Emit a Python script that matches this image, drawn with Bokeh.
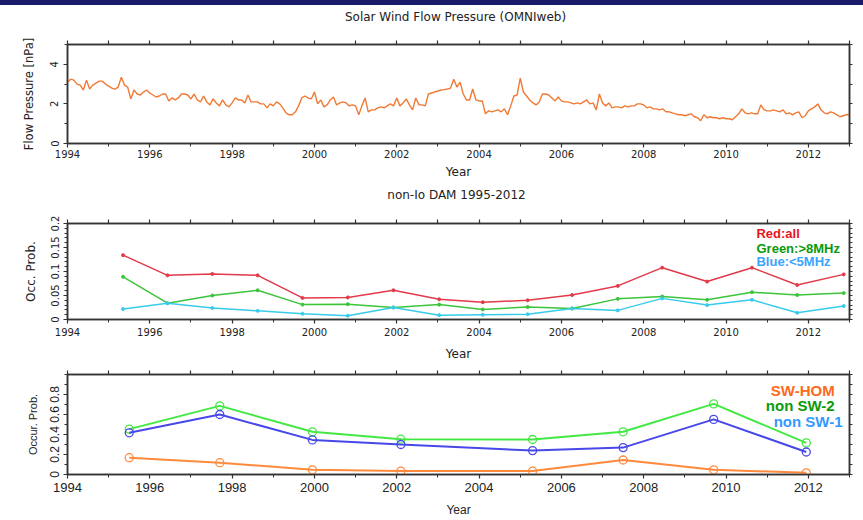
import numpy as np
from bokeh.plotting import figure
from bokeh.layouts import column
from bokeh.models import Label, LinearAxis, FixedTicker, Range1d, Div
from bokeh.embed import file_html
from bokeh.resources import INLINE

# ---- Solar wind flow pressure, 13 samples per year, 1994.0 .. 2013.0 ----
pressure_npa = [
    3.1, 3.25, 3.2, 3.0, 2.95, 2.7, 3.2, 2.75, 2.95, 3.05, 3.15, 3.15, 3.0,      # 1994
    2.9, 2.8, 2.75, 2.85, 3.35, 2.95, 2.85, 2.25, 2.7, 2.5, 2.45, 2.6, 2.7,      # 1995
    2.55, 2.45, 2.35, 2.4, 2.5, 2.5, 2.15, 2.3, 2.2, 2.3, 2.5, 2.5, 2.45,        # 1996
    2.25, 2.5, 2.2, 2.1, 2.4, 2.1, 1.95, 2.25, 2.05, 1.9, 2.2, 1.95, 1.85,       # 1997
    2.05, 2.3, 2.2, 2.2, 2.05, 2.45, 2.1, 2.1, 2.1, 2.0, 2.0, 1.8, 2.0,          # 1998
    1.9, 2.1, 2.0, 1.8, 1.55, 1.45, 1.45, 1.6, 1.9, 2.3, 2.4, 2.3, 2.25,         # 1999
    2.6, 2.0, 2.2, 1.85, 1.95, 2.2, 2.35, 1.95, 2.05, 2.1, 2.05, 1.9, 1.95,      # 2000
    1.9, 1.45, 1.9, 2.3, 1.6, 1.7, 1.7, 1.8, 1.85, 1.8, 1.9, 2.0, 1.9,           # 2001
    2.3, 1.9, 2.05, 2.25, 1.95, 1.7, 2.3, 1.95, 1.95, 1.9, 2.5, 2.55, 2.6,       # 2002
    2.65, 2.7, 2.72, 2.75, 2.8, 3.25, 2.85, 3.1, 2.5, 2.2, 2.2, 2.75, 2.2,       # 2003
    2.15, 2.15, 1.5, 1.65, 1.6, 1.65, 1.7, 1.6, 1.75, 1.45, 1.9, 2.4, 2.45,      # 2004
    3.3, 2.6, 2.4, 2.2, 2.05, 1.95, 2.1, 2.5, 2.5, 2.45, 2.3, 2.15, 2.35,        # 2005
    2.15, 2.1, 2.1, 2.05, 2.0, 2.05, 2.0, 2.1, 2.2, 2.0, 2.05, 1.7, 2.5,         # 2006
    2.05, 1.9, 2.05, 1.8, 1.85, 1.85, 1.8, 1.9, 1.85, 1.9, 1.9, 2.0, 2.0,        # 2007
    1.95, 1.8, 1.85, 1.75, 1.75, 1.7, 1.75, 1.6, 1.6, 1.55, 1.5, 1.45, 1.45,     # 2008
    1.4, 1.45, 1.5, 1.35, 1.3, 1.15, 1.45, 1.3, 1.35, 1.3, 1.3, 1.25, 1.3,       # 2009
    1.25, 1.25, 1.2, 1.35, 1.5, 1.75, 1.55, 1.5, 1.55, 1.5, 1.5, 1.95, 1.7,      # 2010
    1.65, 1.65, 1.7, 1.65, 1.6, 1.7, 1.5, 1.55, 1.45, 1.55, 1.6, 1.3, 1.4,       # 2011
    1.65, 1.75, 1.85, 2.0, 1.7, 1.55, 1.5, 1.6, 1.55, 1.45, 1.35, 1.4, 1.45,     # 2012
    1.45,                                                                         # 2013.0
]
pressure_year = np.linspace(1994.0, 2013.0, len(pressure_npa))

# ---- non-Io DAM occurrence probability ----
dam_year = [1995.35, 1996.43, 1997.52, 1998.62, 1999.71, 2000.81, 2001.92, 2003.03, 2004.09,
            2005.18, 2006.26, 2007.37, 2008.45, 2009.54, 2010.63, 2011.73, 2012.86]
dam_all = [0.134, 0.092, 0.095, 0.092, 0.045, 0.046, 0.061, 0.042, 0.036,
           0.040, 0.051, 0.070, 0.108, 0.079, 0.108, 0.072, 0.094]
dam_high = [0.089, 0.034, 0.050, 0.061, 0.031, 0.032, 0.025, 0.031, 0.021,
            0.026, 0.023, 0.043, 0.048, 0.041, 0.057, 0.051, 0.055]
dam_low = [0.022, 0.034, 0.024, 0.018, 0.012, 0.008, 0.025, 0.009, 0.010,
           0.011, 0.023, 0.019, 0.044, 0.030, 0.041, 0.014, 0.028]

# ---- solar wind related occurrence probability ----
sw_year = [1995.5, 1997.7, 1999.95, 2002.1, 2005.3, 2007.5, 2009.7, 2011.95]
sw_hom = [0.168, 0.118, 0.047, 0.034, 0.034, 0.145, 0.047, 0.017]
non_sw2 = [0.454, 0.686, 0.427, 0.353, 0.350, 0.427, 0.706, 0.316]
non_sw1 = [0.417, 0.600, 0.346, 0.300, 0.239, 0.269, 0.551, 0.225]

year_major = list(range(1994, 2013, 2))
year_minor = list(range(1995, 2014, 2))

AXIS_COLOR = "#333333"
IDL_FONT = "DejaVu Sans"
ARIAL = "Liberation Sans"
NAVY = "#1b1b6b"


def panel(height, left, top, right, bottom, yr, yticks, yminor, ylabels, ylabel,
          tick_font, xtick_size, ytick_size, ylab_size, ylab_standoff, xlab_standoff,
          year_standoff):
    p = figure(width=863, height=height,
               x_range=Range1d(1994, 2013), y_range=Range1d(*yr),
               output_backend="svg", toolbar_location=None,
               min_border_left=left, min_border_top=top, min_border_right=right,
               min_border_bottom=bottom)
    p.title = None
    p.xgrid.visible = False
    p.ygrid.visible = False
    p.outline_line_color = AXIS_COLOR
    p.outline_line_width = 1.5
    p.background_fill_color = "white"
    p.border_fill_color = "white"

    p.xaxis.ticker = FixedTicker(ticks=year_major, minor_ticks=year_minor)
    p.yaxis.ticker = FixedTicker(ticks=yticks, minor_ticks=yminor)
    p.yaxis.major_label_overrides = ylabels
    p.yaxis.major_label_orientation = "vertical"
    p.yaxis.axis_label = ylabel
    p.yaxis.axis_label_text_font = tick_font
    p.yaxis.axis_label_text_font_size = ylab_size
    p.yaxis.axis_label_text_font_style = "normal"
    p.yaxis.axis_label_text_color = "#222222"
    p.yaxis.axis_label_standoff = ylab_standoff
    p.xaxis.major_label_standoff = xlab_standoff
    p.xaxis.axis_label = "Year"
    p.xaxis.axis_label_text_font = tick_font
    p.xaxis.axis_label_text_font_size = "12px"
    p.xaxis.axis_label_text_font_style = "normal"
    p.xaxis.axis_label_text_color = "#222222"
    p.xaxis.axis_label_standoff = year_standoff

    # mirrored axes on top and right: tick marks only, no labels
    top_axis = LinearAxis(ticker=FixedTicker(ticks=[], minor_ticks=year_major + year_minor),
                          major_label_standoff=0, axis_label_standoff=0)
    right_axis = LinearAxis(ticker=FixedTicker(ticks=[], minor_ticks=sorted(set(yticks) | set(yminor))),
                            major_label_standoff=0, axis_label_standoff=0)
    p.add_layout(top_axis, "above")
    p.add_layout(right_axis, "right")

    for ax in p.axis:
        ax.axis_line_color = AXIS_COLOR
        ax.axis_line_width = 1.5
        ax.major_tick_line_color = AXIS_COLOR
        ax.minor_tick_line_color = AXIS_COLOR
        ax.major_tick_line_width = 1.2
        ax.major_tick_in = 0
        ax.major_tick_out = 4
        ax.minor_tick_in = 0
        ax.minor_tick_out = 3
        ax.major_label_text_font = tick_font
        ax.major_label_text_color = "#222222"
    top_axis.minor_tick_out = 4
    top_axis.minor_tick_line_width = 1.2
    p.xaxis.major_label_text_font_size = xtick_size
    p.yaxis.major_label_text_font_size = ytick_size
    return p


def heading(text, height, left, right, band=0):
    # centred text strip above a panel, centred over the plotting frame;
    # the first one also carries the navy band along the top of the page
    styles = {"font-family": IDL_FONT, "font-size": "12px", "color": "#222222",
              "line-height": f"{height - band}px", "text-align": "center",
              "padding-left": f"{left}px", "padding-right": f"{right}px",
              "box-sizing": "border-box", "white-space": "nowrap",
              "background-color": "white"}
    if band:
        styles["border-top"] = f"{band}px solid {NAVY}"
    return Div(text=text, width=863, height=height, margin=0, styles=styles)


def add_text(p, x, y, text, size, color, align):
    p.add_layout(Label(x=x, y=y, text=text, text_font=ARIAL, text_font_size=size,
                       text_color=color, text_font_style="bold", text_align=align,
                       text_baseline="middle"))


title1 = heading("Solar Wind Flow Pressure (OMNIweb)", 29, 62, 14, band=5)

# ---- panel 1: flow pressure ----
p1 = panel(154, 62, 15, 14, 40, (0, 5), [0, 2, 4], [1, 3, 5],
           {0: "0", 2: "2", 4: "4"}, "Flow Pressure [nPa]", IDL_FONT,
           "10px", "10px", "11.5px", 12, 2, 4)
p1.line(pressure_year, pressure_npa, line_color="#f07a35", line_width=1.4)

title2 = heading("non-Io DAM 1995-2012", 25, 63, 13)

# ---- panel 2: non-Io DAM ----
p2 = panel(155, 63, 15, 13, 42, (0, 0.2), [0, 0.05, 0.1, 0.15, 0.2],
           [round(0.01 * i, 2) for i in range(21)],
           {0: "0", 0.05: "0.05", 0.1: "0.1", 0.15: "0.15", 0.2: "0.2"},
           "Occ. Prob.", IDL_FONT, "10px", "10px", "12px", 10, 4, 8)
p2.line(dam_year, dam_all, line_color="#e23a48", line_width=1.5)
p2.scatter(dam_year, dam_all, size=3, color="#e23a48")
p2.line(dam_year, dam_high, line_color="#3cc43c", line_width=1.5)
p2.scatter(dam_year, dam_high, size=3, color="#3cc43c")
p2.line(dam_year, dam_low, line_color="#38cbea", line_width=1.5)
p2.scatter(dam_year, dam_low, size=3, color="#38cbea")
add_text(p2, 2010.74, 0.180, "Red:all", "13px", "#e8141e", "left")
add_text(p2, 2010.74, 0.148, "Green:>8MHz", "13px", "#0a9a0a", "left")
add_text(p2, 2010.74, 0.120, "Blue:<5MHz", "13px", "#3aa4ff", "left")

# ---- panel 3: solar-wind related occurrence ----
p3 = panel(157, 67, 11, 13, 46, (0, 1.0), [0, 0.2, 0.4, 0.6, 0.8],
           [round(0.1 * i, 1) for i in range(11)],
           {0: "0", 0.2: "0.2", 0.4: "0.4", 0.6: "0.6", 0.8: "0.8"},
           "Occur. Prob.", ARIAL, "13px", "12px", "11px", 8, 4, 8)
p3.line(sw_year, non_sw2, line_color="#44e844", line_width=2)
p3.scatter(sw_year, non_sw2, size=8, marker="circle", fill_color=None, line_color="#44e844", line_width=1.3)
p3.line(sw_year, non_sw1, line_color="#4848e8", line_width=2)
p3.scatter(sw_year, non_sw1, size=8, marker="circle", fill_color=None, line_color="#4848e8", line_width=1.3)
p3.line(sw_year, sw_hom, line_color="#ff8a3c", line_width=2)
p3.scatter(sw_year, sw_hom, size=8, marker="circle", fill_color=None, line_color="#ff8a3c", line_width=1.3)
add_text(p3, 2012.64, 0.836, "SW-HOM", "15px", "#ff6a1a", "right")
add_text(p3, 2012.64, 0.693, "non SW-2", "15px", "#0a9a0a", "right")
add_text(p3, 2012.83, 0.533, "non SW-1", "15px", "#3399ff", "right")

layout = column(title1, p1, title2, p2, p3, spacing=0)
open("out.html", "w").write(file_html(layout, INLINE))
